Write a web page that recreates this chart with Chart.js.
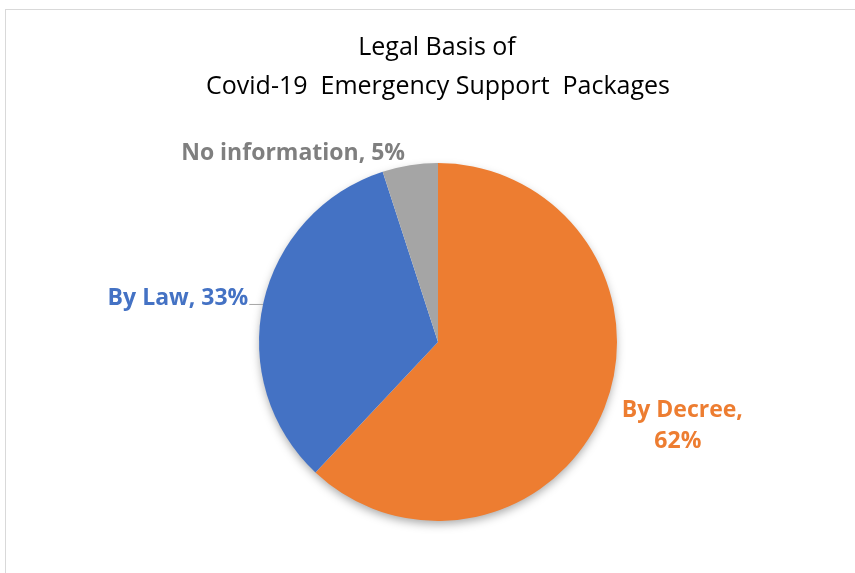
<!DOCTYPE html>
<html>
<head>
<meta charset="utf-8">
<script src="https://cdn.jsdelivr.net/npm/chart.js@4"></script>
<style>
  html, body { margin: 0; padding: 0; background: #fff; overflow: hidden; }
  #frame { position: absolute; left: 5px; top: 9px; width: 900px; height: 700px;
           border-left: 1px solid #d9d9d9; border-top: 1px solid #d9d9d9; }
  #wrap { position: absolute; left: 0; top: 0; width: 855px; height: 573px; }
</style>
</head>
<body>
<div id="frame"></div>
<div id="wrap"><canvas id="myChart" width="855" height="573"></canvas></div>
<script>
var titleLines = ["Legal Basis of", "Covid-19  Emergency Support  Packages"];
var categories = ["By Decree", "By Law", "No information"];
var shares = [62, 33, 5];
var sliceColors = ["#ED7D31", "#4472C4", "#A5A5A5"];
var labelColors = ["#ED7D31", "#4472C4", "#7F7F7F"];

var fontName = "'Open Sans', Lato, sans-serif";

// shadow under the whole pie, then title and data labels on top
var piePlugin = {
  id: "pieExtras",
  beforeDatasetsDraw: function (chart) {
    var arc = chart.getDatasetMeta(0).data[0];
    var ctx = chart.ctx;
    ctx.save();
    ctx.shadowColor = "rgba(0,0,0,0.35)";
    ctx.shadowBlur = 10;
    ctx.shadowOffsetY = 4;
    ctx.fillStyle = "#ffffff";
    ctx.beginPath();
    ctx.arc(arc.x, arc.y, arc.outerRadius - 1, 0, Math.PI * 2);
    ctx.fill();
    ctx.restore();
  },
  afterDatasetsDraw: function (chart) {
    var ctx = chart.ctx;
    var meta = chart.getDatasetMeta(0);
    var a0 = meta.data[0];
    var cx = a0.x, cy = a0.y, r = a0.outerRadius;

    ctx.save();
    ctx.fillStyle = "#000";
    ctx.textAlign = "center";
    ctx.textBaseline = "middle";
    ctx.font = "25px " + fontName;
    ctx.fillText(titleLines[0], 437, 48);
    ctx.fillText(titleLines[1], 438, 87);

    ctx.font = "bold 23px " + fontName;

    // By Decree
    ctx.fillStyle = labelColors[0];
    ctx.textAlign = "center";
    ctx.fillText(categories[0] + ",", cx + r * 1.365, cy + r * 0.38);
    ctx.fillText(shares[0] + "%", cx + r * 1.34, cy + r * 0.38 + 31);

    // By Law, with leader line
    ctx.fillStyle = labelColors[1];
    ctx.textAlign = "right";
    var lx = cx - r * 1.06, ly = cy - r * 0.246;
    ctx.fillText(categories[1] + ", " + shares[1] + "%", lx, ly);
    ctx.strokeStyle = "#A6A6A6";
    ctx.lineWidth = 1;
    ctx.beginPath();
    ctx.moveTo(lx + 1, ly + 6.5);
    ctx.lineTo(cx - r + 4, ly + 6.5);
    ctx.stroke();

    // No information
    ctx.fillStyle = labelColors[2];
    ctx.fillText(categories[2] + ", " + shares[2] + "%", cx - r * 0.184, cy - r * 1.056);
    ctx.restore();
  }
};

new Chart("myChart", {
  type: "pie",
  data: {
    labels: categories,
    datasets: [{
      data: shares,
      backgroundColor: sliceColors,
      borderWidth: 0
    }]
  },
  options: {
    responsive: false,
    animation: false,
    layout: { padding: { top: 163, bottom: 52, left: 259, right: 238 } },
    plugins: {
      legend: { display: false },
      title: { display: false },
      tooltip: { enabled: false }
    }
  },
  plugins: [piePlugin]
});
</script>
</body>
</html>
